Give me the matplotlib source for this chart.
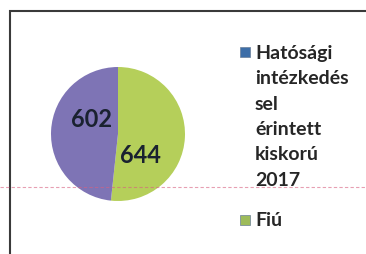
import matplotlib
matplotlib.use("Agg")
import matplotlib.pyplot as plt
from matplotlib.patches import Rectangle
from matplotlib.lines import Line2D

plt.rcParams['font.family'] = ['Lato', 'DejaVu Sans']

# data
slice_values = [644, 602]
slice_colors = ['#b5cf5a', '#7e74b5']
legend_labels = ['Hatósági\nintézkedés\nsel\nérintett\nkiskorú\n2017', 'Fiú']
legend_colors = ['#3d6ea8', '#9dbb5a']

fig = plt.figure(figsize=(3.66, 2.55), dpi=100)
fig.patch.set_facecolor('white')

# pie
ax = fig.add_axes([51/366, 53/255, 134/366, 134/255])
wedges, _ = ax.pie(slice_values, colors=slice_colors, startangle=90,
                   counterclock=False, radius=1)
ax.set_xlim(-1, 1)
ax.set_ylim(-1, 1)
ax.set_aspect('equal')
ax.axis('off')

# value labels
label_pos = [(0.33, -0.30), (-0.39, 0.23)]
for v, (x, y) in zip(slice_values, label_pos):
    ax.text(x, y, str(v), ha='center', va='center', fontsize=17,
            fontweight='bold', color='#1a2230')

# legend drawn by hand so the square sits on the first line
line_h = 25.5 / 255
y = 1 - 53/255
for lab, col in zip(legend_labels, legend_colors):
    parts = lab.split('\n')
    fig.patches.append(Rectangle((240/366, y - 5/255), 10/366, 10/255,
                                 transform=fig.transFigure, facecolor=col,
                                 edgecolor='#6a7f99', lw=0.5))
    for i, part in enumerate(parts):
        fig.text(255/366, y - i * line_h, part, ha='left', va='center',
                 fontsize=14, fontweight='bold', color='#262626')
    y -= (len(parts) - 1) * line_h + 40/255

# chart frame (cropped at right and bottom)
fig.patches.append(Rectangle((10/366, -0.2), 1.5, 1.2 - 12/255,
                             transform=fig.transFigure, fill=False,
                             edgecolor='#3a3a3a', lw=1.5))
# faint scan line
fig.lines.append(Line2D([0, 1], [1 - 188/255, 1 - 188/255],
                        transform=fig.transFigure, color='#d86080',
                        lw=0.8, ls=(0, (3, 2)), alpha=0.6))

fig.savefig('out.png', dpi=100)
